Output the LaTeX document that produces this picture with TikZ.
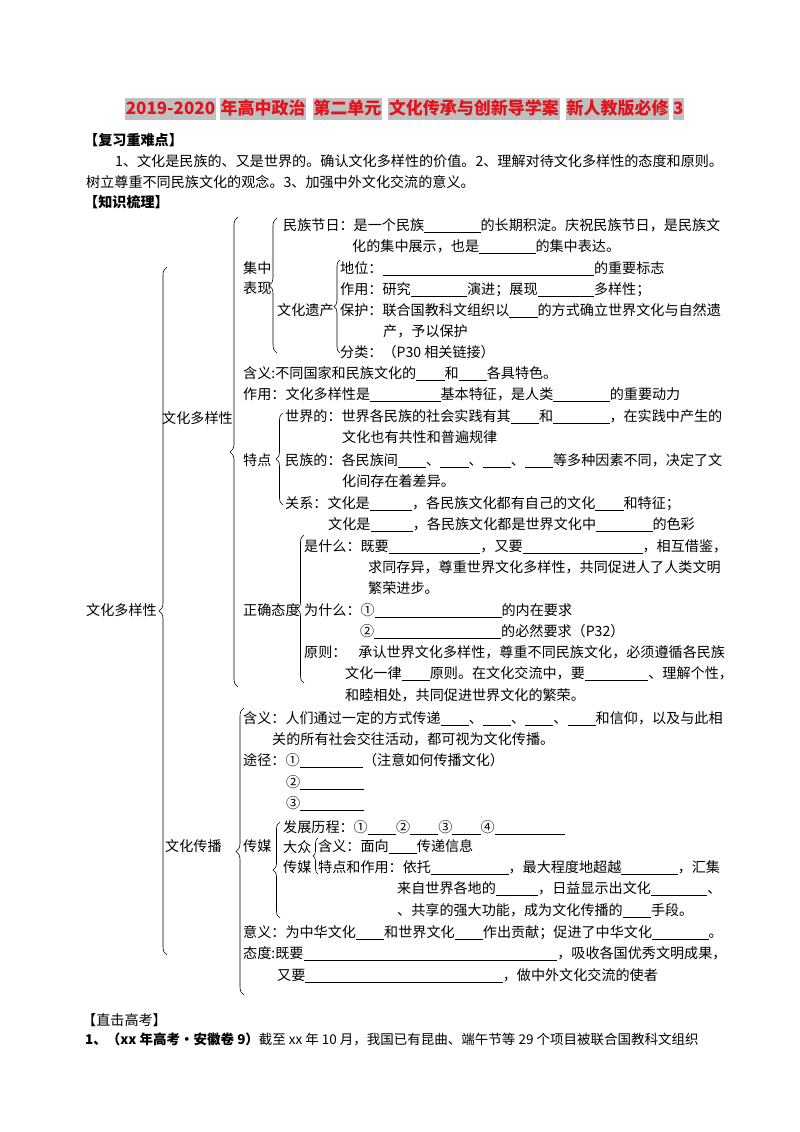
\documentclass[tikz,border=0pt]{standalone}
\usepackage{fontspec}
\setmainfont{Noto Sans CJK SC}
\usepackage{tikz}
\usetikzlibrary{positioning,decorations.pathreplacing}
\definecolor{TitleRed}{RGB}{225,20,30}
\definecolor{MarkGray}{RGB}{192,192,192}
\newcommand\bk[1]{\rule[-0.17em]{\dimexpr0.5em*#1\relax}{0.05em}}

\begin{document}
\begin{tikzpicture}[x=1pt,y=-1pt]
\tikzset{
  tx/.style={anchor=base west, inner sep=0pt, font=\fontsize{14.1}{20.5}\selectfont},
  hd/.style={tx, font=\fontsize{14.1}{20.5}\selectfont\bfseries},
  tt/.style={fill=MarkGray, text=TitleRed, inner xsep=0.6pt, inner ysep=1.5pt,
    text height=15pt, text depth=4pt, font=\fontsize{17}{20}\selectfont\bfseries},
  br/.style={decorate, decoration={brace, amplitude=#1}, line width=0.6pt},
  br/.default=8pt
}
\fill[white] (0,0) rectangle (800,1132);
\useasboundingbox (0,0) rectangle (800,1132);

\node[tt, anchor=base west] (t1) at (125,114) {2019-2020};
\node[tt, right=4pt of t1] (t2) {年高中政治};
\node[tt, right=6pt of t2] (t3) {第二单元};
\node[tt, right=6pt of t3] (t4) {文化传承与创新导学案};
\node[tt, right=6pt of t4] (t5) {新人教版必修};
\node[tt, right=3pt of t5] (t6) {3};

\node[hd] (h1) at (84,145) {【复习重难点】};
\node[tx] (p1) at (115,166) {1、文化是民族的、又是世界的。确认文化多样性的价值。2、理解对待文化多样性的态度和原则。};
\node[tx] (p2) at (86,187) {树立尊重不同民族文化的观念。3、加强中外文化交流的意义。};
\node[hd] (h2) at (84,207) {【知识梳理】};

\node[tx] (root) at (86,615) {文化多样性};
\node[tx] (dy) at (162,423) {文化多样性};
\node[tx] (cb) at (165,851) {文化传播};

\node[tx, anchor=west, align=left] (jz) at (243,278) {集中\\表现};
\node[tx] (a1) at (283,230) {民族节日：是一个民族\bk{8}的长期积淀。庆祝民族节日，是民族文};
\node[tx] (a2) at (352,251) {化的集中展示，也是\bk{8}的集中表达。};
\node[tx] (yc) at (277,315) {文化遗产};
\node[tx] (a3) at (340,273) {地位：\bk{30}的重要标志};
\node[tx] (a4) at (340,294) {作用：研究\bk{8}演进；展现\bk{8}多样性；};
\node[tx] (a5) at (340,315) {保护：联合国教科文组织以\bk{4}的方式确立世界文化与自然遗};
\node[tx] (a6) at (383,336) {产，予以保护};
\node[tx] (a7) at (340,357) {分类：（P30 相关链接）};
\node[tx] (a8) at (243,378) {含义:不同国家和民族文化的\bk{4}和\bk{4}各具特色。};
\node[tx] (a9) at (243,399) {作用：文化多样性是\bk{10}基本特征，是人类\bk{8}的重要动力};

\node[tx] (td) at (243,465) {特点};
\node[tx] (b1) at (285,421) {世界的：世界各民族的社会实践有其\bk{4}和\bk{8}，在实践中产生的};
\node[tx] (b2) at (342,442) {文化也有共性和普遍规律};
\node[tx] (b3) at (285,465) {民族的：各民族间\bk{4}、\bk{4}、\bk{4}、\bk{4}等多种因素不同，决定了文};
\node[tx] (b4) at (342,486) {化间存在着差异。};
\node[tx] (b5) at (285,508) {关系：文化是\bk{6}，各民族文化都有自己的文化\bk{4}和特征；};
\node[tx] (b6) at (328,529) {文化是\bk{6}，各民族文化都是世界文化中\bk{8}的色彩};

\node[tx] (zq) at (243,615) {正确态度};
\node[tx] (c1) at (304,551) {是什么：既要\bk{13}，又要\bk{17}，相互借鉴，};
\node[tx] (c2) at (368,572) {求同存异，尊重世界文化多样性，共同促进人了人类文明};
\node[tx] (c3) at (368,593) {繁荣进步。};
\node[tx] (c4) at (304,615) {为什么：①\bk{18}的内在要求};
\node[tx] (c5) at (360,636) {②\bk{18}的必然要求（P32）};
\node[tx] (c6) at (304,657) {原则：\hspace{0.85em}承认世界文化多样性，尊重不同民族文化，必须遵循各民族};
\node[tx] (c7) at (345,678) {文化一律\bk{4}原则。在文化交流中，要\bk{9}、理解个性，};
\node[tx] (c8) at (345,700) {和睦相处，共同促进世界文化的繁荣。};

\node[tx] (d1) at (243,723) {含义：人们通过一定的方式传递\bk{4}、\bk{4}、\bk{4}、\bk{4}和信仰，以及与此相};
\node[tx] (d2) at (272,744) {关的所有社会交往活动，都可视为文化传播。};
\node[tx] (d3) at (243,765) {途径：①\bk{9}（注意如何传播文化）};
\node[tx] (d4) at (286,787) {②\bk{9}};
\node[tx] (d5) at (286,808) {③\bk{9}};

\node[tx] (cm) at (243,851) {传媒};
\node[tx] (e1) at (283,832) {发展历程：①\bk{4}②\bk{4}③\bk{4}④\bk{10}};
\node[tx, anchor=west, align=left] (dz) at (283,857) {大众\\传媒};
\node[tx] (e2) at (318,851) {含义：面向\bk{4}传递信息};
\node[tx] (e3) at (318,872) {特点和作用：依托\bk{11}，最大程度地超越\bk{8}，汇集};
\node[tx] (e4) at (397,893) {来自世界各地的\bk{6}，日益显示出文化\bk{8}、};
\node[tx] (e5) at (397,915) {、共享的强大功能，成为文化传播的\bk{4}手段。};
\node[tx] (f1) at (243,937) {意义：为中华文化\bk{4}和世界文化\bk{4}作出贡献；促进了中华文化\bk{8}。};
\node[tx] (f2) at (243,958) {态度:既要\bk{36}，吸收各国优秀文明成果，};
\node[tx] (f3) at (277,980) {又要\bk{28}，做中外文化交流的使者};

\node[tx] (g1) at (82,1025) {【直击高考】};
\node[tx, font=\fontsize{13.5}{18}\selectfont] (g2) at (85,1044) {\textbf{1、（xx 年高考·安徽卷 9）}截至 xx 年 10 月，我国已有昆曲、端午节等 29 个项目被联合国教科文组织};

\coordinate (rt) at (167,267);  \coordinate (rb) at (167,955);
\coordinate (dyt) at (238,217); \coordinate (dyb) at (238,687);
\coordinate (cbt) at (244,708); \coordinate (cbb) at (244,995);
\coordinate (jzt) at (277,218); \coordinate (jzb) at (277,353);
\coordinate (yct) at (340,260); \coordinate (ycb) at (340,353);
\coordinate (tdt) at (283,413); \coordinate (tdb) at (283,505);
\coordinate (zqt) at (304,535); \coordinate (zqb) at (304,683);
\coordinate (cmt) at (280,822); \coordinate (cmb) at (280,918);
\coordinate (dzt) at (318,838); \coordinate (dzb) at (318,874);

\draw[br] (rb) -- (rt);
\draw[br] (dyb) -- (dyt);
\draw[br] (cbb) -- (cbt);
\draw[br] (jzb) -- (jzt);
\draw[br=6pt] (ycb) -- (yct);
\draw[br=7pt] (tdb) -- (tdt);
\draw[br=7pt] (zqb) -- (zqt);
\draw[br=7pt] (cmb) -- (cmt);
\draw[br=5pt] (dzb) -- (dzt);
\end{tikzpicture}
\end{document}
